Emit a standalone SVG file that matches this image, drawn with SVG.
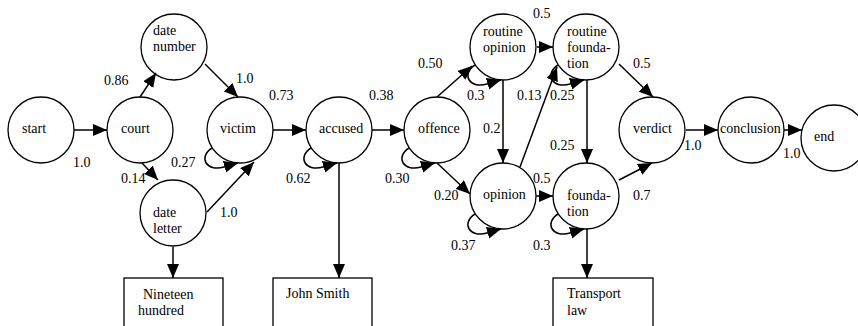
<svg xmlns="http://www.w3.org/2000/svg" width="858" height="326" viewBox="0 0 858 326">
<style>
text{font-family:'Liberation Serif','Times New Roman','DejaVu Serif',serif;font-size:14px;fill:#000}
.n circle{fill:#fff;stroke:#000;stroke-width:1.3}
.n rect{fill:#fff;stroke:#000;stroke-width:1.3}
.e path{fill:none;stroke:#000;stroke-width:1.5;marker-end:url(#ah)}
</style>
<defs>
<marker id="ah" viewBox="0 0 14 12" refX="14" refY="6" markerWidth="14" markerHeight="12" markerUnits="userSpaceOnUse" orient="auto"><path d="M0,0 L14,6 L0,12 z" fill="#000"/></marker>
</defs>
<rect width="858" height="326" fill="#fff"/>
<g font-family="Liberation Serif, Times New Roman, DejaVu Serif, serif">
<g id="start" class="n"><circle cx="41" cy="130" r="33"/><text x="22" y="133">start</text></g>
<g id="court" class="n"><circle cx="140" cy="130" r="33"/><text x="121" y="133">court</text></g>
<g id="date-number" class="n"><circle cx="174" cy="47" r="33"/><text x="153" y="35">date</text><text x="153" y="51">number</text></g>
<g id="victim" class="n"><circle cx="240" cy="130" r="33"/><text x="220" y="133">victim</text></g>
<g id="date-letter" class="n"><circle cx="173" cy="213" r="33"/><text x="153" y="217">date</text><text x="153" y="233">letter</text></g>
<g id="accused" class="n"><circle cx="339" cy="130" r="33"/><text x="319" y="133">accused</text></g>
<g id="offence" class="n"><circle cx="437" cy="130" r="33"/><text x="418" y="133">offence</text></g>
<g id="routine-opinion" class="n"><circle cx="503" cy="47" r="33"/><text x="483" y="36">routine</text><text x="483" y="52">opinion</text></g>
<g id="opinion" class="n"><circle cx="503" cy="196" r="33"/><text x="483" y="199">opinion</text></g>
<g id="routine-foundation" class="n"><circle cx="586" cy="47" r="33"/><text x="567" y="36">routine</text><text x="567" y="52">founda-</text><text x="567" y="68">tion</text></g>
<g id="foundation" class="n"><circle cx="586" cy="196" r="33"/><text x="567" y="200">founda-</text><text x="567" y="216">tion</text></g>
<g id="verdict" class="n"><circle cx="652" cy="130" r="33"/><text x="633" y="133">verdict</text></g>
<g id="conclusion" class="n"><circle cx="751" cy="130" r="33"/><text x="720" y="133">conclusion</text></g>
<g id="end" class="n"><circle cx="834" cy="138" r="33"/><text x="814" y="141">end</text></g>
<g id="nineteen-hundred" class="n"><rect x="124" y="278" width="99" height="60"/><text x="143" y="299">Nineteen</text><text x="138" y="315">hundred</text></g>
<g id="john-smith" class="n"><rect x="273" y="278" width="99" height="60"/><text x="286" y="298">John Smith</text></g>
<g id="transport-law" class="n"><rect x="553" y="278" width="100" height="60"/><text x="567" y="298">Transport</text><text x="567" y="315">law</text></g>
<g id="connectors" class="e">
<path d="M74,130 L107,130"/>
<path d="M140,97 L156,73"/>
<path d="M142,163 L158,180"/>
<path d="M205,64 L238,97"/>
<path d="M207,212 L254,162"/>
<path d="M212,148 C198,157 206,172 224,167 L238,163"/>
<path d="M273,130 L306,130"/>
<path d="M311,148 C297,157 305,172 323,167 L337,163"/>
<path d="M339,163 L339,278"/>
<path d="M173,247 L173,278"/>
<path d="M372,130 L404,130"/>
<path d="M409,148 C395,157 403,172 421,167 L435,163"/>
<path d="M437,97 L472,66"/>
<path d="M437,163 L470,194"/>
<path d="M475,65 C461,74 469,89 487,84 L501,80"/>
<path d="M537,47 L553,47"/>
<path d="M503,80 L503,163"/>
<path d="M520,167 L557,67"/>
<path d="M558,65 C544,74 552,89 570,84 L584,80"/>
<path d="M587,80 L587,163"/>
<path d="M619,64 L653,97"/>
<path d="M475,214 C461,223 469,238 487,233 L501,229"/>
<path d="M536,196 L553,196"/>
<path d="M558,214 C544,223 552,238 570,233 L584,229"/>
<path d="M619,180 L652,163"/>
<path d="M587,229 L587,278"/>
<path d="M686,130 L718,130"/>
<path d="M784,130 L802,130"/>
</g>
<g id="labels">
<text x="73" y="167">1.0</text>
<text x="104" y="85">0.86</text>
<text x="236" y="83">1.0</text>
<text x="269" y="100">0.73</text>
<text x="171" y="167">0.27</text>
<text x="121" y="183">0.14</text>
<text x="220" y="217">1.0</text>
<text x="286" y="183">0.62</text>
<text x="369" y="100">0.38</text>
<text x="418" y="68">0.50</text>
<text x="385" y="183">0.30</text>
<text x="434" y="200">0.20</text>
<text x="467" y="100">0.3</text>
<text x="483" y="133">0.2</text>
<text x="517" y="100">0.13</text>
<text x="533" y="18">0.5</text>
<text x="550" y="100">0.25</text>
<text x="633" y="68">0.5</text>
<text x="550" y="150">0.25</text>
<text x="533" y="183">0.5</text>
<text x="451" y="250">0.37</text>
<text x="533" y="250">0.3</text>
<text x="633" y="200">0.7</text>
<text x="684" y="150">1.0</text>
<text x="783" y="158">1.0</text>
</g>
</g>
</svg>
